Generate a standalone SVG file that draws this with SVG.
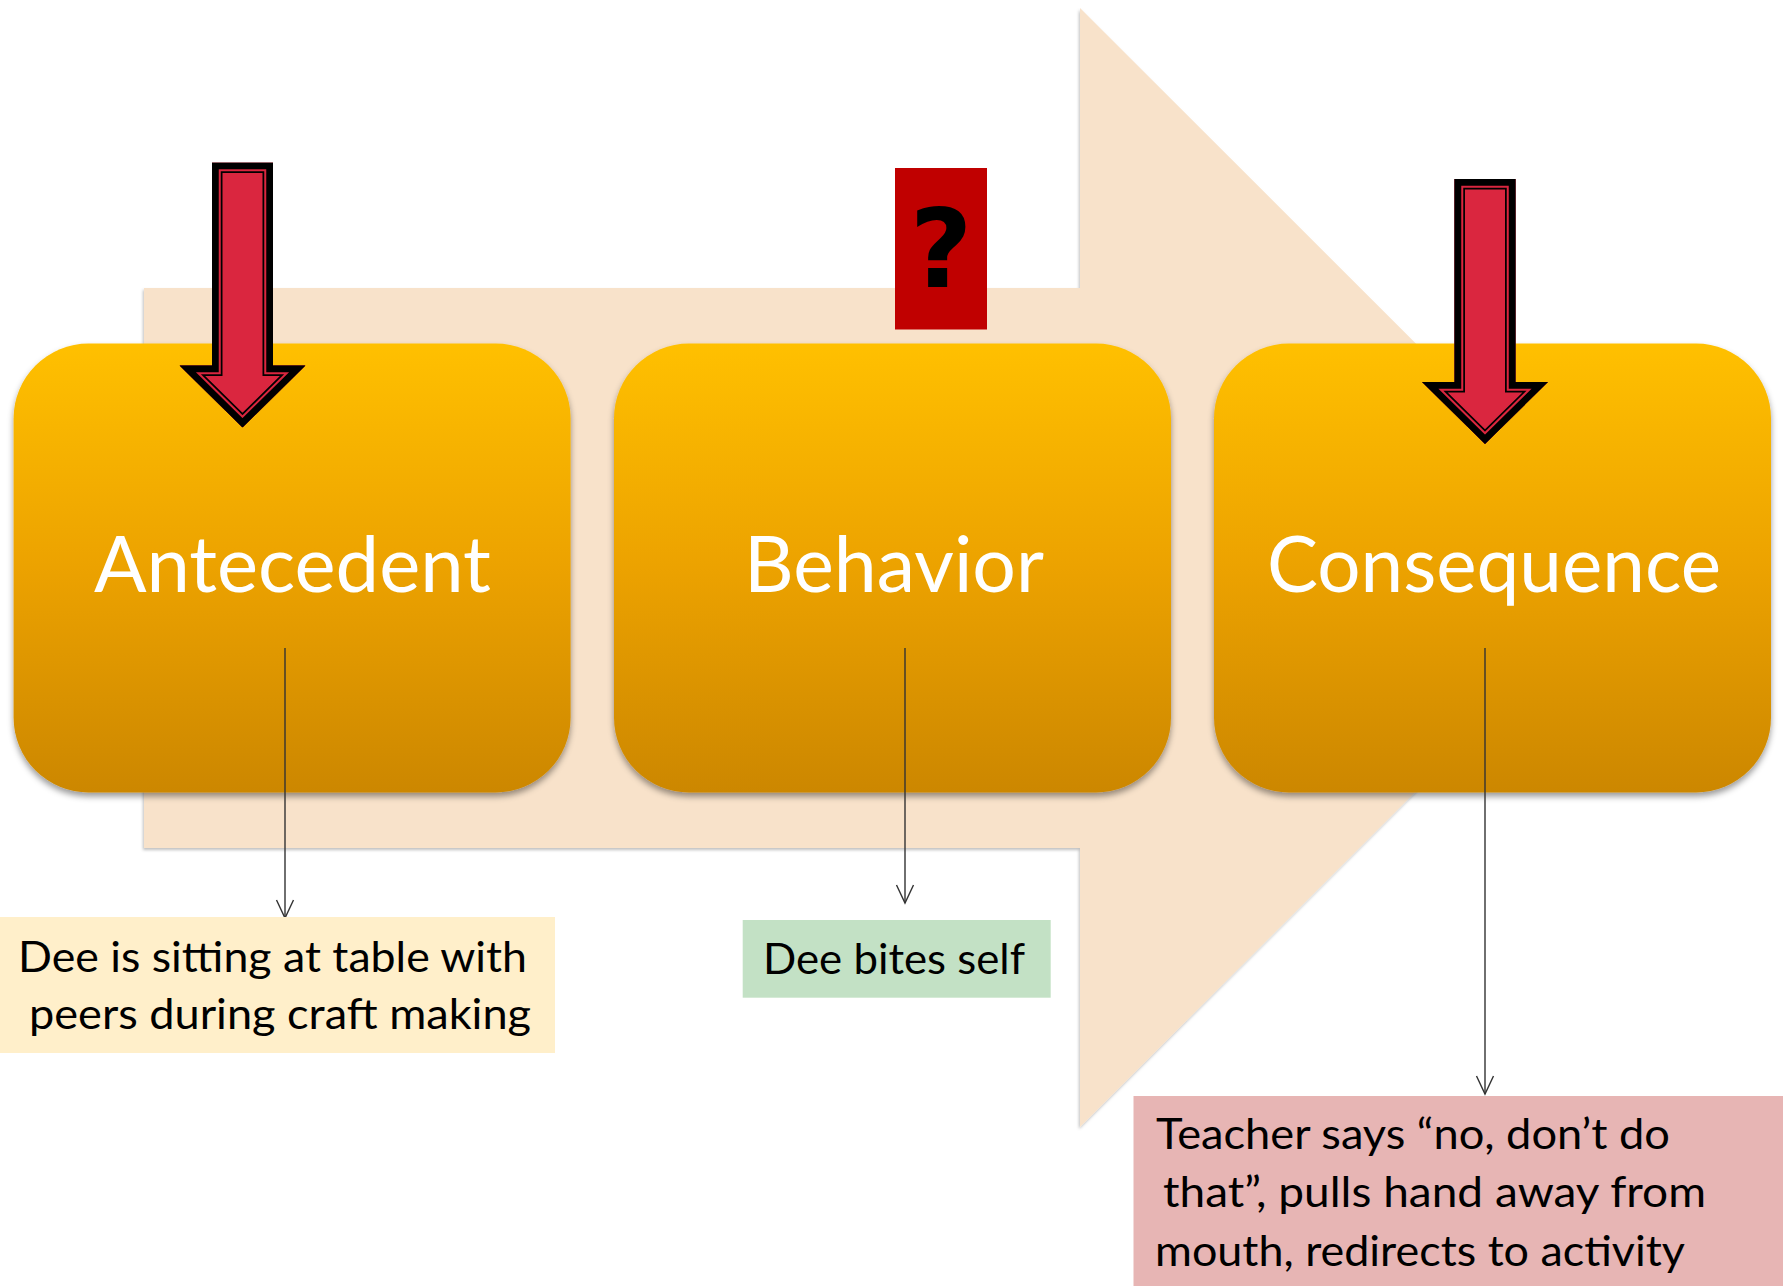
<svg xmlns="http://www.w3.org/2000/svg" xmlns:xlink="http://www.w3.org/1999/xlink" width="1783" height="1286" viewBox="0 0 1783 1286">
  <style>
    .stage { fill: url(#stageFill); filter: url(#boxShadow); }
    .title { font-family: Lato, "Open Sans", "Liberation Sans", sans-serif; font-size: 78px; fill: #ffffff; }
    .note { font-family: Lato, "Open Sans", "Liberation Sans", sans-serif; font-size: 42px; fill: #000000; }
    .link { stroke: #333333; stroke-width: 1.4; fill: none; marker-end: url(#openHead); }
  </style>
  <defs>
    <linearGradient id="stageFill" x1="0" y1="0" x2="0" y2="1">
      <stop offset="0" stop-color="#FFC000"/>
      <stop offset="0.5" stop-color="#ECA200"/>
      <stop offset="1" stop-color="#CC8700"/>
    </linearGradient>
    <filter id="boxShadow" x="-10%" y="-10%" width="120%" height="125%">
      <feDropShadow dx="0" dy="4" stdDeviation="3" flood-color="#000" flood-opacity="0.4"/>
    </filter>
    <filter id="flowShadow" x="-5%" y="-5%" width="110%" height="110%">
      <feDropShadow dx="-1" dy="2" stdDeviation="1.5" flood-color="#000" flood-opacity="0.25"/>
    </filter>
    <marker id="openHead" markerUnits="userSpaceOnUse" markerWidth="24" markerHeight="24" refX="0" refY="0" viewBox="-20 -12 24 24" orient="auto" overflow="visible">
      <path d="M -18,-8.5 L 0,0 L -18,8.5" fill="none" stroke="#333333" stroke-width="1.4"/>
    </marker>
    <!-- block arrow outline, tip pointing down, origin at top centre of the shaft -->
    <polygon id="raShape" points="-30.5,0 30.5,0 30.5,203 63,203 0,265 -63,203 -30.5,203"/>
    <clipPath id="raClip"><use xlink:href="#raShape"/></clipPath>
    <g id="redArrow" clip-path="url(#raClip)" stroke-linejoin="miter" stroke-miterlimit="10">
      <use xlink:href="#raShape" fill="#DA263F" stroke="#000000" stroke-width="21"/>
      <use xlink:href="#raShape" fill="none" stroke="#DA263F" stroke-width="17.5"/>
      <use xlink:href="#raShape" fill="none" stroke="#000000" stroke-width="13.5"/>
    </g>
  </defs>

  <!-- large background flow arrow -->
  <g id="flow-arrow">
    <polygon points="144,288 1080,288 1080,8 1640,567.5 1080,1127 1080,848 144,848" fill="#F8E2CA" filter="url(#flowShadow)"/>
  </g>

  <!-- stages -->
  <g id="antecedent">
    <rect class="stage" x="13.6" y="343.5" width="557" height="449" rx="75" ry="75"/>
    <text class="title" x="94" y="592" textLength="397" lengthAdjust="spacingAndGlyphs">Antecedent</text>
  </g>
  <g id="behavior">
    <rect class="stage" x="614" y="343.5" width="557" height="449" rx="75" ry="75"/>
    <text class="title" x="744" y="592" textLength="300" lengthAdjust="spacingAndGlyphs">Behavior</text>
  </g>
  <g id="consequence">
    <rect class="stage" x="1214" y="343.5" width="557" height="449" rx="75" ry="75"/>
    <text class="title" x="1267" y="592" textLength="454" lengthAdjust="spacingAndGlyphs">Consequence</text>
  </g>

  <!-- red pointer arrows -->
  <g id="antecedent-pointer">
    <use xlink:href="#redArrow" transform="translate(242.5,162.5)"/>
  </g>
  <g id="consequence-pointer">
    <use xlink:href="#redArrow" transform="translate(1485,179)"/>
  </g>

  <!-- unknown function marker -->
  <g id="question-mark">
    <rect x="895" y="168" width="92" height="161.5" fill="#C00000"/>
    <text x="941" y="287" text-anchor="middle" font-family="'DejaVu Sans', 'Liberation Sans', sans-serif" font-weight="bold" font-size="108" fill="#000000">?</text>
  </g>

  <!-- connectors -->
  <g id="connectors">
    <line class="link" x1="285" y1="648" x2="285" y2="918"/>
    <line class="link" x1="905" y1="648" x2="905" y2="903"/>
    <line class="link" x1="1485" y1="648" x2="1485" y2="1094"/>
  </g>

  <!-- descriptions -->
  <g id="antecedent-note">
    <rect x="0" y="917" width="555" height="136" fill="#FFEFCA"/>
    <text class="note" x="18" y="972" textLength="509" lengthAdjust="spacingAndGlyphs">Dee is sitting at table with</text>
    <text class="note" x="29" y="1028.5" textLength="502" lengthAdjust="spacingAndGlyphs">peers during craft making</text>
  </g>
  <g id="behavior-note">
    <rect x="742.7" y="920" width="308" height="77.7" fill="#C3E1C5"/>
    <text class="note" x="763" y="974" textLength="262" lengthAdjust="spacingAndGlyphs">Dee bites self</text>
  </g>
  <g id="consequence-note">
    <rect x="1133.5" y="1096" width="650" height="190" fill="#E7B5B4"/>
    <text class="note" x="1156" y="1149" textLength="514" lengthAdjust="spacingAndGlyphs">Teacher says “no, don’t do</text>
    <text class="note" x="1163" y="1207" textLength="543" lengthAdjust="spacingAndGlyphs">that”, pulls hand away from</text>
    <text class="note" x="1155" y="1265.5" textLength="530" lengthAdjust="spacingAndGlyphs">mouth, redirects to activity</text>
  </g>
</svg>
